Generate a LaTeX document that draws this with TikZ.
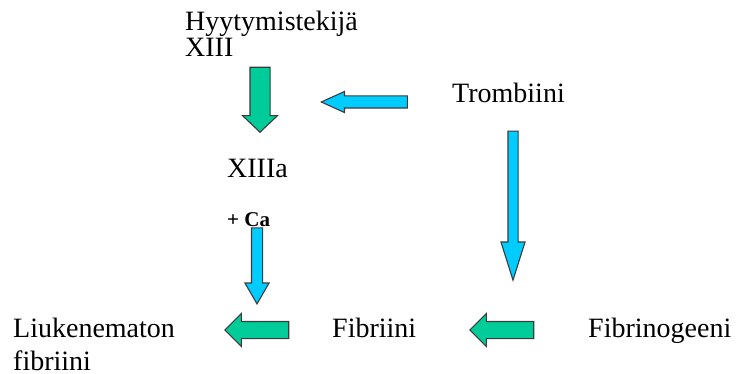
\documentclass[tikz,border=0pt]{standalone}
\usepackage{fontspec}
\setmainfont{Liberation Serif}
\usetikzlibrary{shapes.arrows}

\begin{document}
\begin{tikzpicture}[x=1pt,y=-1pt,
    label/.style={inner sep=0pt, anchor=base west, align=left,
        font=\fontsize{28}{26}\selectfont},
    blockarrow/.style={single arrow, draw=arrowline, line width=1.1pt,
        anchor=tip, minimum width=1pt}]

    % Colors for the arrows
    \definecolor{arrowgreen}{RGB}{0,204,153}
    \definecolor{arrowblue}{RGB}{0,204,255}
    \definecolor{arrowline}{RGB}{60,60,60}

    \useasboundingbox (0,0) rectangle (736,374);

    % Labels (two-line ones sit on the baseline of their last line)
    \node[label] (xiii) at (185,57) {Hyytymistekijä\\XIII};
    \node[label] (trombiini) at (452,103) {Trombiini};
    \node[label] (xiiia) at (227,178) {XIIIa};
    \node[label, font=\fontsize{21}{24}\selectfont\bfseries] (ca) at (227,226) {+ Ca};
    \node[label, font=\fontsize{28}{33}\selectfont] (liuk) at (13,370) {Liukenematon\\fibriini};
    \node[label] (fibriini) at (332,337) {Fibriini};
    \node[label] (fibrinogeeni) at (588,337) {Fibrinogeeni};

    % Green arrows
    \node[blockarrow, fill=arrowgreen, shape border rotate=270, inner sep=9.5pt,
        minimum height=65pt, single arrow head extend=7.5pt,
        single arrow tip angle=93] (xiii-xiiia) at (260,133) {};
    \node[blockarrow, fill=arrowgreen, shape border rotate=180, inner sep=8pt,
        minimum height=64pt, single arrow head extend=8pt,
        single arrow tip angle=90] (fibriini-liuk) at (224,330) {};
    \node[blockarrow, fill=arrowgreen, shape border rotate=180, inner sep=8pt,
        minimum height=64pt, single arrow head extend=8pt,
        single arrow tip angle=90] (fibrinogeeni-fibriini) at (469,330) {};

    % Blue arrows
    \node[blockarrow, fill=arrowblue, shape border rotate=180, inner sep=5.5pt,
        minimum height=86pt, single arrow head extend=4.5pt,
        single arrow tip angle=49] (trombiini-xiii) at (320,102) {};
    \node[blockarrow, fill=arrowblue, shape border rotate=270, inner sep=4.5pt,
        minimum height=149pt, single arrow head extend=7pt,
        single arrow tip angle=35] (trombiini-fibrinogeeni) at (513,282) {};
    \node[blockarrow, fill=arrowblue, shape border rotate=270, inner sep=5pt,
        minimum height=76pt, single arrow head extend=6.5pt,
        single arrow tip angle=60] (ca-liuk) at (257,305) {};

\end{tikzpicture}
\end{document}
